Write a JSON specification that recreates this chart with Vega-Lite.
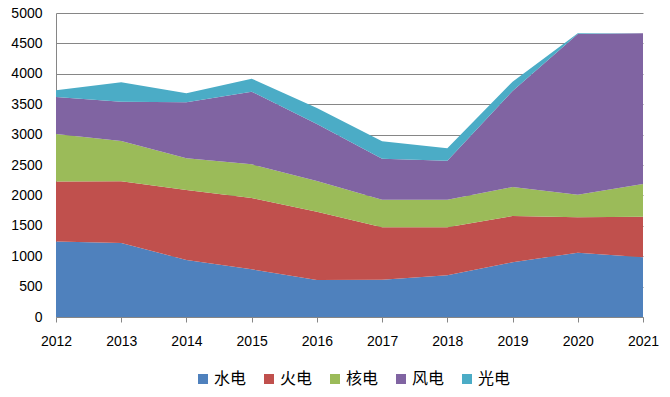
{
  "$schema": "https://vega.github.io/schema/vega-lite/v6.json",
  "width": 587,
  "height": 304,
  "autosize": {"type": "none"},
  "padding": {"left": 56, "top": 13, "right": 27, "bottom": 80},
  "background": "white",
  "data": {"values": [
    {"year": 2012, "type": "水电", "o": 1, "value": 1240},
    {"year": 2012, "type": "火电", "o": 2, "value": 990},
    {"year": 2012, "type": "核电", "o": 3, "value": 780},
    {"year": 2012, "type": "风电", "o": 4, "value": 610},
    {"year": 2012, "type": "光电", "o": 5, "value": 110},
    {"year": 2013, "type": "水电", "o": 1, "value": 1217},
    {"year": 2013, "type": "火电", "o": 2, "value": 1015},
    {"year": 2013, "type": "核电", "o": 3, "value": 663},
    {"year": 2013, "type": "风电", "o": 4, "value": 646},
    {"year": 2013, "type": "光电", "o": 5, "value": 319},
    {"year": 2014, "type": "水电", "o": 1, "value": 938},
    {"year": 2014, "type": "火电", "o": 2, "value": 1151},
    {"year": 2014, "type": "核电", "o": 3, "value": 521},
    {"year": 2014, "type": "风电", "o": 4, "value": 921},
    {"year": 2014, "type": "光电", "o": 5, "value": 148},
    {"year": 2015, "type": "水电", "o": 1, "value": 784},
    {"year": 2015, "type": "火电", "o": 2, "value": 1173},
    {"year": 2015, "type": "核电", "o": 3, "value": 554},
    {"year": 2015, "type": "风电", "o": 4, "value": 1195},
    {"year": 2015, "type": "光电", "o": 5, "value": 214},
    {"year": 2016, "type": "水电", "o": 1, "value": 609},
    {"year": 2016, "type": "火电", "o": 2, "value": 1123},
    {"year": 2016, "type": "核电", "o": 3, "value": 505},
    {"year": 2016, "type": "风电", "o": 4, "value": 937},
    {"year": 2016, "type": "光电", "o": 5, "value": 263},
    {"year": 2017, "type": "水电", "o": 1, "value": 614},
    {"year": 2017, "type": "火电", "o": 2, "value": 861},
    {"year": 2017, "type": "核电", "o": 3, "value": 455},
    {"year": 2017, "type": "风电", "o": 4, "value": 674},
    {"year": 2017, "type": "光电", "o": 5, "value": 285},
    {"year": 2018, "type": "水电", "o": 1, "value": 688},
    {"year": 2018, "type": "火电", "o": 2, "value": 787},
    {"year": 2018, "type": "核电", "o": 3, "value": 452},
    {"year": 2018, "type": "风电", "o": 4, "value": 644},
    {"year": 2018, "type": "光电", "o": 5, "value": 203},
    {"year": 2019, "type": "水电", "o": 1, "value": 899},
    {"year": 2019, "type": "火电", "o": 2, "value": 762},
    {"year": 2019, "type": "核电", "o": 3, "value": 477},
    {"year": 2019, "type": "风电", "o": 4, "value": 1579},
    {"year": 2019, "type": "光电", "o": 5, "value": 153},
    {"year": 2020, "type": "水电", "o": 1, "value": 1058},
    {"year": 2020, "type": "火电", "o": 2, "value": 581},
    {"year": 2020, "type": "核电", "o": 3, "value": 373},
    {"year": 2020, "type": "风电", "o": 4, "value": 2643},
    {"year": 2020, "type": "光电", "o": 5, "value": 11},
    {"year": 2021, "type": "水电", "o": 1, "value": 982},
    {"year": 2021, "type": "火电", "o": 2, "value": 668},
    {"year": 2021, "type": "核电", "o": 3, "value": 538},
    {"year": 2021, "type": "风电", "o": 4, "value": 2478},
    {"year": 2021, "type": "光电", "o": 5, "value": 2}
  ]},
  "mark": {"type": "area", "interpolate": "linear", "opacity": 1},
  "encoding": {
    "x": {
      "field": "year", "type": "quantitative",
      "scale": {"domain": [2012, 2021], "nice": false, "zero": false},
      "axis": {
        "title": null, "format": "d", "values": [2012, 2013, 2014, 2015, 2016, 2017, 2018, 2019, 2020, 2021],
        "grid": false, "domainColor": "#868686", "tickColor": "#868686", "tickSize": 5,
        "labelFont": "Liberation Sans", "labelFontSize": 14, "labelColor": "#000000", "labelPadding": 12,
        "labelFlush": false
      }
    },
    "y": {
      "field": "value", "type": "quantitative", "stack": "zero",
      "scale": {"domain": [0, 5000], "nice": false},
      "axis": {
        "title": null, "values": [0, 500, 1000, 1500, 2000, 2500, 3000, 3500, 4000, 4500, 5000],
        "format": "d", "grid": true, "gridColor": "#868686", "gridWidth": 1,
        "domainColor": "#868686", "ticks": false, "labelPadding": 14,
        "labelFont": "Liberation Sans", "labelFontSize": 14, "labelColor": "#000000"
      }
    },
    "color": {
      "field": "type", "type": "nominal",
      "sort": ["水电", "火电", "核电", "风电", "光电"],
      "scale": {"domain": ["水电", "火电", "核电", "风电", "光电"], "range": ["#4F81BD", "#C0504D", "#9BBB59", "#8064A2", "#4BACC6"]},
      "legend": {
        "title": null, "orient": "none", "direction": "horizontal", "columns": 5,
        "legendX": 139, "legendY": 358,
        "symbolType": "square", "symbolSize": 100, "symbolStrokeWidth": 0,
        "labelFont": "Noto Sans CJK SC", "labelFontSize": 16, "labelColor": "#000000",
        "columnPadding": 14, "labelOffset": 3
      }
    },
    "order": {"field": "o", "type": "quantitative"}
  },
  "config": {"view": {"stroke": null}}
}
